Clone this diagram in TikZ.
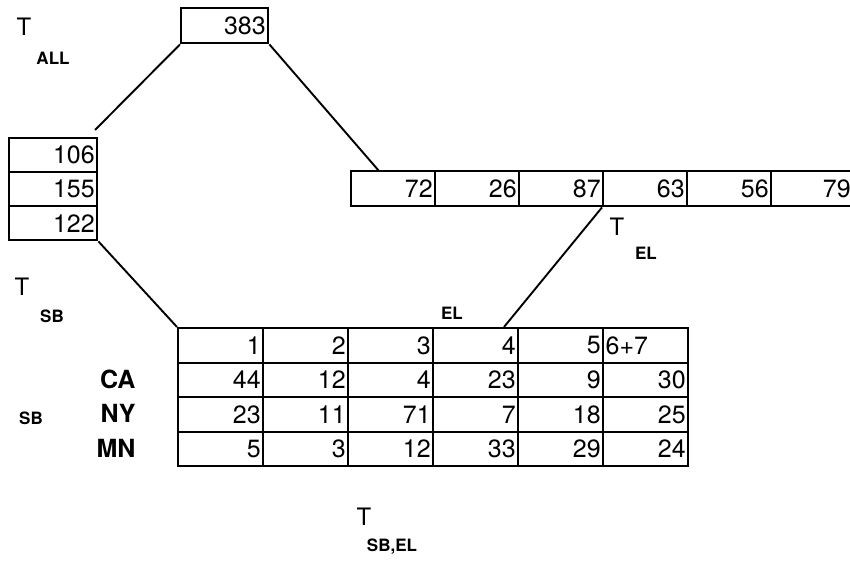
\documentclass[tikz,border=0pt]{standalone}
\usepackage{fontspec}
\setmainfont{TeX Gyre Heros}
\begin{document}
\begin{tikzpicture}[x=1pt,y=-1pt,
  cellbox/.style={draw, line width=2.4pt, anchor=north west, minimum height=34.5pt,
    text width=80pt, inner xsep=2.5pt, inner ysep=0pt, align=right,
    font=\fontsize{25}{25}\selectfont},
  upcell/.style={cellbox, text width=79pt, minimum height=35pt},
  sidecell/.style={cellbox, text width=83pt, minimum height=34pt},
  conn/.style={line width=1.9pt},
  bigT/.style={font=\fontsize{24}{24}\selectfont},
  sublbl/.style={font=\bfseries\fontsize{17}{17}\selectfont},
  rowlbl/.style={font=\bfseries\fontsize{25}{25}\selectfont, anchor=east}]
\useasboundingbox (0,0) rectangle (850,561);

% top total
\node[cellbox, text width=82pt, minimum height=35pt] (all) at (180,7) {383};

% left column
\node[sidecell] (sb1) at (8,137) {106};
\node[sidecell] (sb2) at (8,171) {155};
\node[sidecell] (sb3) at (8,205) {122};

% upper row
\node[upcell] (el1) at (350,170) {72};
\node[upcell] (el2) at (434,170) {26};
\node[upcell] (el3) at (518,170) {87};
\node[upcell] (el4) at (602,170) {63};
\node[upcell] (el5) at (686,170) {56};
\node[upcell, text width=77pt] (el6) at (770,170) {79};

% table header
\node[cellbox] (h1) at (177,327) {1};
\node[cellbox] (h2) at (262,327) {2};
\node[cellbox] (h3) at (347,327) {3};
\node[cellbox] (h4) at (432,327) {4};
\node[cellbox] (h5) at (517,327) {5};
\node[cellbox, align=left] (h6) at (602,327) {6+7};
% CA
\node[cellbox] (ca1) at (177,361.5) {44};
\node[cellbox] (ca2) at (262,361.5) {12};
\node[cellbox] (ca3) at (347,361.5) {4};
\node[cellbox] (ca4) at (432,361.5) {23};
\node[cellbox] (ca5) at (517,361.5) {9};
\node[cellbox] (ca6) at (602,361.5) {30};
% NY
\node[cellbox] (ny1) at (177,396) {23};
\node[cellbox] (ny2) at (262,396) {11};
\node[cellbox] (ny3) at (347,396) {71};
\node[cellbox] (ny4) at (432,396) {7};
\node[cellbox] (ny5) at (517,396) {18};
\node[cellbox] (ny6) at (602,396) {25};
% MN
\node[cellbox] (mn1) at (177,430.5) {5};
\node[cellbox] (mn2) at (262,430.5) {3};
\node[cellbox] (mn3) at (347,430.5) {12};
\node[cellbox] (mn4) at (432,430.5) {33};
\node[cellbox] (mn5) at (517,430.5) {29};
\node[cellbox] (mn6) at (602,430.5) {24};

% row labels
\node[rowlbl] (lca) at (139,379) {CA};
\node[rowlbl] (lny) at (139,413) {NY};
\node[rowlbl] (lmn) at (139,448) {MN};
\node[sublbl] (lsb) at (31,418) {SB};
\node[sublbl] (lel) at (452,313) {EL};

% titles
\node[bigT] (tall) at (24,27) {T};
\node[sublbl] (tallsub) at (53,58) {ALL};
\node[bigT] (tsb) at (22,287) {T};
\node[sublbl] (tsbsub) at (52,316) {SB};
\node[bigT] (tel) at (617,227) {T};
\node[sublbl] (telsub) at (646,253) {EL};
\node[bigT] (tsbel) at (364,517) {T};
\node[sublbl] (tsbelsub) at (392,547) {SB,EL};

% connectors
\coordinate (c1) at (95,130);
\coordinate (c2) at (379,171);
\coordinate (c3) at (504,327);
\draw[conn] (all.south west) -- (c1);
\draw[conn] (all.south east) -- (c2);
\draw[conn] (sb3.south east) -- (h1.north west);
\draw[conn] (el4.south west) -- (c3);
\end{tikzpicture}
\end{document}
